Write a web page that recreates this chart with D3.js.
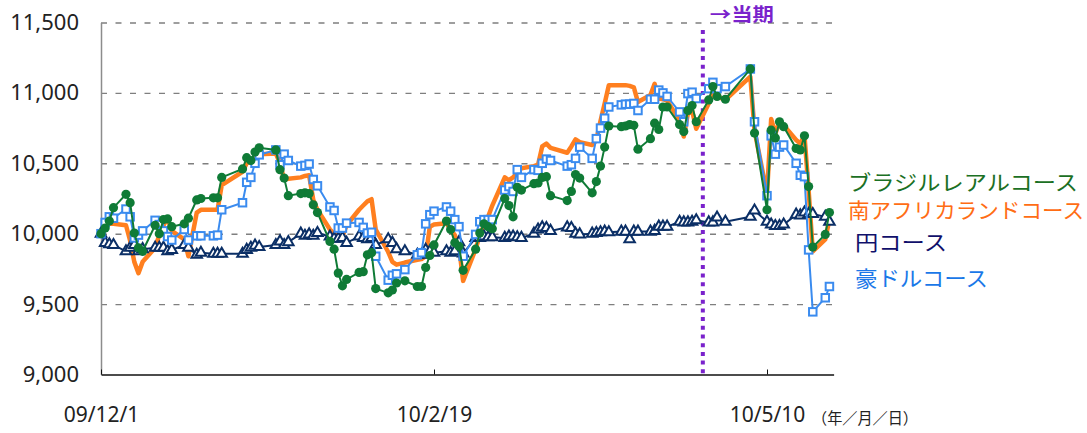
<!DOCTYPE html>
<html><head><meta charset="utf-8">
<script src="https://cdn.jsdelivr.net/npm/d3@7"></script>
<style>body{margin:0;background:#fff}svg{display:block}</style>
</head><body>
<svg id="chart" width="1087" height="433"></svg>
<script>
const dates = [
"2009-12-01","2009-12-02","2009-12-03","2009-12-04","2009-12-07","2009-12-08","2009-12-09","2009-12-10","2009-12-11","2009-12-14","2009-12-15","2009-12-16","2009-12-17","2009-12-18","2009-12-21","2009-12-22","2009-12-24","2009-12-25","2009-12-28","2009-12-29","2009-12-30",
"2010-01-04","2010-01-05","2010-01-06","2010-01-07","2010-01-08","2010-01-12","2010-01-13","2010-01-14","2010-01-15","2010-01-18","2010-01-19","2010-01-20","2010-01-21","2010-01-22","2010-01-25","2010-01-26","2010-01-27","2010-01-28","2010-01-29",
"2010-02-01","2010-02-02","2010-02-03","2010-02-04","2010-02-05","2010-02-08","2010-02-09","2010-02-10","2010-02-12","2010-02-15","2010-02-16","2010-02-17","2010-02-18","2010-02-19","2010-02-22","2010-02-23","2010-02-24","2010-02-25","2010-02-26",
"2010-03-01","2010-03-02","2010-03-03","2010-03-04","2010-03-05","2010-03-08","2010-03-09","2010-03-10","2010-03-11","2010-03-12","2010-03-15","2010-03-16","2010-03-17","2010-03-18","2010-03-19","2010-03-23","2010-03-24","2010-03-25","2010-03-26","2010-03-29","2010-03-30","2010-03-31",
"2010-04-01","2010-04-02","2010-04-05","2010-04-06","2010-04-07","2010-04-08","2010-04-09","2010-04-12","2010-04-13","2010-04-14","2010-04-15","2010-04-16","2010-04-19","2010-04-20","2010-04-21","2010-04-22","2010-04-23","2010-04-26","2010-04-27","2010-04-28","2010-04-30",
"2010-05-06","2010-05-07","2010-05-10","2010-05-11","2010-05-12","2010-05-13","2010-05-14","2010-05-17","2010-05-18","2010-05-19","2010-05-20","2010-05-21","2010-05-24","2010-05-25"];

const brazilReal = [
10000,10040,10090,10185,10280,10220,10005,9900,9875,10060,10000,10100,10105,10050,10070,10110,10240,10250,10255,10255,10400,
10460,10540,10520,10580,10610,10595,10455,10395,10270,10285,10290,10285,10205,10150,9945,9890,9720,9630,9675,
9725,9730,9850,9865,9610,9580,9600,9650,9665,9625,9625,9760,9845,9920,10090,10030,9935,9910,9740,
9890,10005,10070,10050,10035,10250,10200,10120,10330,10310,10355,10360,10400,10405,10270,10235,10300,10420,10395,10290,10370,10480,
10615,10765,10760,10765,10775,10770,10600,10675,10785,10740,10900,10900,10775,10725,10875,10910,10795,10950,11045,10975,10955,
11170,10715,10170,10735,10680,10795,10760,10605,10595,10695,10335,9905,9995,10150];

const southAfricanRand = [
10000,10060,10070,10070,10060,9950,9800,9720,9800,9900,9990,10060,10110,10020,9960,9840,10150,10170,10170,10170,10345,
10440,10500,10520,10545,10565,10570,10500,10385,10390,10400,10410,10415,10240,10170,10030,10000,9985,9980,10060,
10170,10200,10230,10245,10030,9870,9800,9780,9795,9815,9820,9840,10050,10065,10075,10030,9990,9910,9665,
9890,9990,10060,10120,10200,10400,10380,10400,10430,10465,10480,10490,10620,10640,10610,10575,10620,10670,10650,10630,10665,10800,
10925,11055,11055,11055,11050,11040,10935,10985,11065,10960,10955,10945,10805,10690,10855,10875,10745,10925,11005,10975,10950,
11115,10735,10280,10815,10710,10795,10770,10665,10640,10700,10310,9875,9960,10100];

const japaneseYen = [
10000,9935,9925,9920,9875,9900,9920,9875,9890,9900,9900,9900,9875,9885,9920,9900,9850,9865,9857,9857,9857,
9857,9885,9900,9915,9905,9920,9945,9920,9940,10000,9985,9995,9985,10005,9980,9965,9965,9970,9935,
9980,9970,9960,9970,9920,9960,9935,9890,9875,9850,9850,9885,9875,9865,9875,9865,9875,9940,9860,
9970,9970,9980,9975,9975,9970,9980,9980,9975,9970,10000,10030,10045,10040,10020,10045,10040,10000,9995,10000,10005,10010,
10015,10010,10015,10015,9960,10015,10015,10015,10020,10050,10050,10050,10085,10080,10080,10085,10095,10080,10080,10115,10085,
10120,10165,10085,10065,10055,10055,10065,10135,10130,10150,10140,10140,10120,10085];

const australianDollar = [
10000,10080,10120,10110,10175,10120,9970,9990,10020,10095,10065,10020,9980,9955,10030,9955,9985,9985,9985,9990,10170,
10220,10365,10400,10500,10560,10595,10490,10565,10520,10480,10485,10495,10385,10340,10190,10165,10040,10040,10075,
10080,10045,10005,10010,9840,9670,9705,9715,9745,9850,9865,10070,10135,10160,10190,10160,10100,10050,9840,
9995,10085,10100,10100,10100,10310,10335,10300,10455,10400,10455,10450,10500,10530,10520,10480,10490,10535,10615,10535,10675,10750,
10820,10900,10915,10920,10920,10925,10875,10955,10955,11020,11000,10975,10865,10795,10995,11005,10960,11030,11075,11030,11045,
11170,10795,10270,10695,10565,10615,10630,10500,10415,10405,9885,9445,9545,9625];

const seriesNames = ["ブラジルレアルコース","南アフリカランドコース","円コース","豪ドルコース"];
const yTickValues = [9000, 9500, 10000, 10500, 11000, 11500];
const xTickDates = ["2009-12-01","2010-02-19","2010-05-10"];
const xTickLabels = ["09/12/1","10/2/19","10/5/10"];
const xUnitLabel = "（年／月／日）";
const currentPeriodLabel = "→当期";
const currentPeriodDate = "2010-04-24T14:00";

const parse = s => new Date(s.length > 10 ? s : s + "T00:00");
const svg = d3.select("#chart");
const plotLeft = 101, plotRight = 833.6, plotTop = 22.5, plotBottom = 374.5;
const x = d3.scaleTime().domain([parse("2009-12-01"), parse("2010-05-26")]).range([plotLeft, plotRight]);
const y = d3.scaleLinear().domain([9000, 11500]).range([plotBottom, plotTop]);
const font = "'Noto Sans','Noto Sans CJK JP',sans-serif";
const jpFont = "'Noto Sans CJK JP',sans-serif";

// gridlines
const grid = svg.append("g").attr("transform", `translate(${plotLeft},0)`)
  .call(d3.axisLeft(y).tickValues(yTickValues.filter(v => v > 9000)).tickSize(-(plotRight - plotLeft)).tickFormat(""));
grid.select(".domain").remove();
grid.selectAll("line").attr("stroke", "#7f7f7f").attr("stroke-width", 1.4).attr("stroke-dasharray", "6,8.5");

// y axis
const yAxis = svg.append("g").attr("transform", `translate(${plotLeft},0)`)
  .call(d3.axisLeft(y).tickValues(yTickValues).tickSize(0).tickPadding(22).tickFormat(d3.format(",")));
yAxis.select(".domain").attr("stroke", "#8c8c8c").attr("stroke-width", 1.5);
yAxis.selectAll("text").attr("font-family", font).attr("font-size", 22).attr("fill", "#222");

// x axis
const xAxis = svg.append("g").attr("transform", `translate(0,${plotBottom})`)
  .call(d3.axisBottom(x).tickValues(xTickDates.map(parse)).tickSizeInner(-5).tickSizeOuter(0).tickPadding(33)
    .tickFormat((d, i) => xTickLabels[i]));
xAxis.select(".domain").attr("stroke", "#111").attr("stroke-width", 1.5);
xAxis.selectAll("line").attr("stroke", "#111").attr("stroke-width", 1);
xAxis.selectAll("text").attr("font-family", font).attr("font-size", 21).attr("fill", "#222");

svg.append("text").attr("x", 812).attr("y", 424).attr("font-family", jpFont)
  .attr("font-size", 15.5).attr("textLength", 106).attr("lengthAdjust", "spacingAndGlyphs")
  .attr("fill", "#222").text(xUnitLabel);

// current period line
const xc = x(parse(currentPeriodDate));
svg.append("line").attr("x1", xc).attr("x2", xc).attr("y1", 30).attr("y2", plotBottom - 1)
  .attr("stroke", "#7a22cc").attr("stroke-width", 4).attr("stroke-dasharray", "4,4.7");
svg.append("text").attr("x", xc + 7).attr("y", 21).attr("font-family", jpFont)
  .attr("font-size", 18).attr("font-weight", "bold").attr("textLength", 64).attr("lengthAdjust", "spacingAndGlyphs")
  .attr("fill", "#7a22cc").text(currentPeriodLabel);

const mk = arr => arr.map((v, i) => ({date: parse(dates[i]), v}));
const line = d3.line().x(d => x(d.date)).y(d => y(d.v));

// South African rand (thick orange, bottom)
svg.append("path").datum(mk(southAfricanRand)).attr("d", line).attr("fill", "none")
  .attr("stroke", "#ff7f1f").attr("stroke-width", 4.5).attr("stroke-linejoin", "round");

// Yen
const yenData = mk(japaneseYen);
svg.append("path").datum(yenData).attr("d", line).attr("fill", "none")
  .attr("stroke", "#0b2f66").attr("stroke-width", 2);
svg.append("g").selectAll("path").data(yenData).join("path")
  .attr("d", d3.symbol(d3.symbolTriangle, 48)())
  .attr("transform", d => `translate(${x(d.date)},${y(d.v)})`)
  .attr("fill", "#fff").attr("stroke", "#0b2f66").attr("stroke-width", 2);

// Australian dollar
const audData = mk(australianDollar);
svg.append("path").datum(audData).attr("d", line).attr("fill", "none")
  .attr("stroke", "#3a8bef").attr("stroke-width", 2);
svg.append("g").selectAll("rect").data(audData).join("rect")
  .attr("x", d => x(d.date) - 3.75).attr("y", d => y(d.v) - 3.75).attr("width", 7.5).attr("height", 7.5)
  .attr("fill", "#fff").attr("stroke", "#3a8bef").attr("stroke-width", 2);

// Brazil real
const brData = mk(brazilReal);
svg.append("path").datum(brData).attr("d", line).attr("fill", "none")
  .attr("stroke", "#0f7b36").attr("stroke-width", 2);
svg.append("g").selectAll("circle").data(brData).join("circle")
  .attr("cx", d => x(d.date)).attr("cy", d => y(d.v)).attr("r", 4.6).attr("fill", "#0f7b36");

// legend
const legendColors = ["#1b7024", "#ff6d14", "#10106b", "#1a78e8"];
const legendX = [848, 848, 855, 855];
const legendY = [190, 218, 250, 286];
const legendW = [230, 236, 92, 133];
svg.append("g").selectAll("text").data(seriesNames).join("text")
  .attr("x", (d, i) => legendX[i]).attr("y", (d, i) => legendY[i])
  .attr("font-family", jpFont).attr("font-size", 21)
  .attr("textLength", (d, i) => legendW[i]).attr("lengthAdjust", "spacingAndGlyphs")
  .attr("fill", (d, i) => legendColors[i]).text(d => d);
</script>
</body></html>
